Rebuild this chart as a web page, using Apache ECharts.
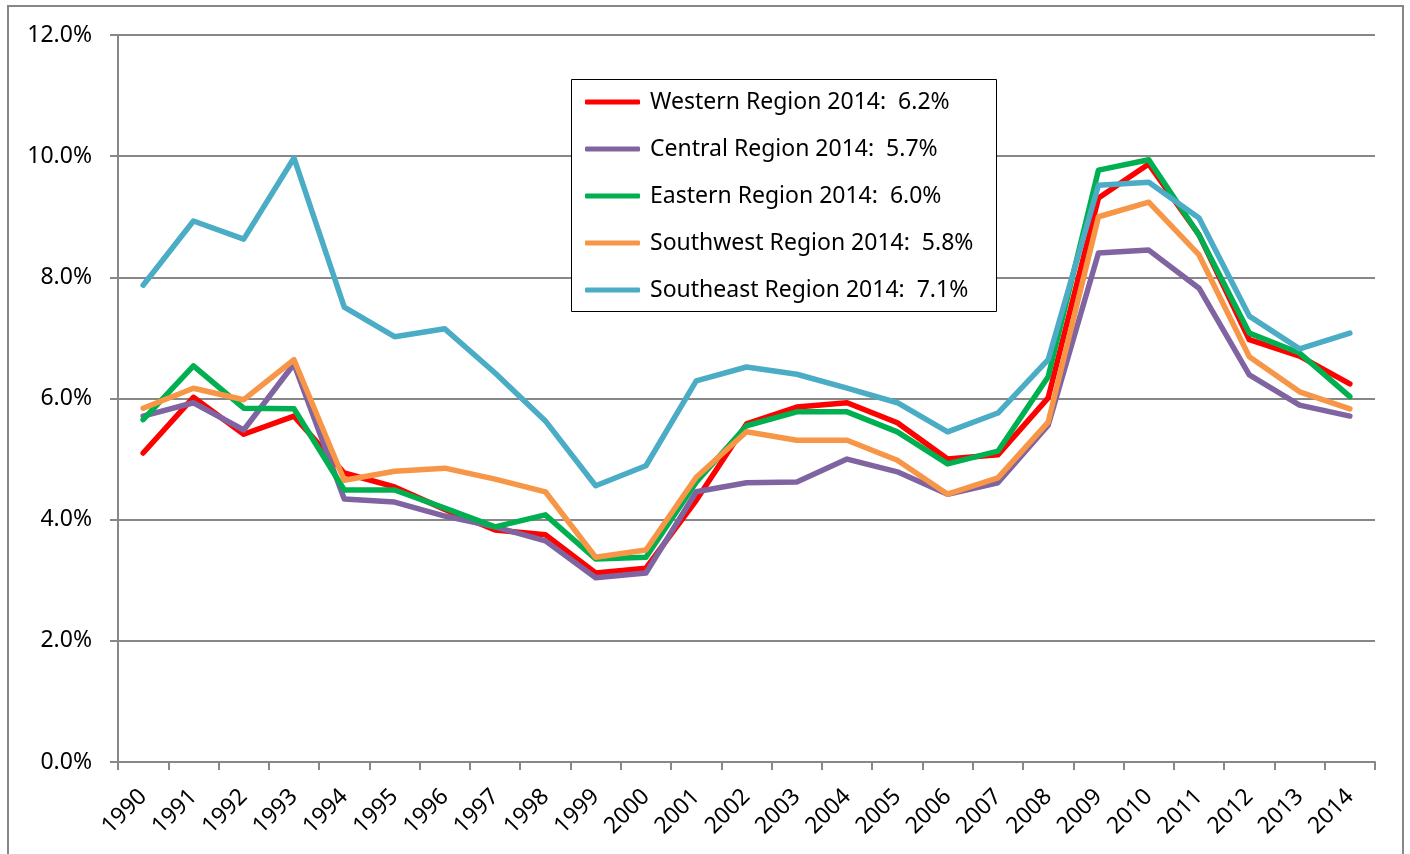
<!DOCTYPE html>
<html>
<head>
<meta charset="utf-8">
<title>Regional Unemployment Rate, 1990–2014</title>
<script src="https://cdn.jsdelivr.net/npm/echarts@6/dist/echarts.min.js"></script>
<style>
  html, body { margin: 0; padding: 0; background: #ffffff; }
  #chart { width: 1410px; height: 854px; }
</style>
</head>
<body>
<div id="chart"></div>
<script>
// Annual unemployment rate by region, in percent
const years = ['1990','1991','1992','1993','1994','1995','1996','1997','1998','1999',
  '2000','2001','2002','2003','2004','2005','2006','2007','2008','2009',
  '2010','2011','2012','2013','2014'];

const western   = [5.10, 6.02, 5.41, 5.71, 4.77, 4.54, 4.17, 3.83, 3.75, 3.12,
  3.20, 4.32, 5.58, 5.86, 5.93, 5.60, 5.00, 5.07, 6.01, 9.31,
  9.87, 8.70, 6.97, 6.70, 6.24];
const central   = [5.71, 5.93, 5.48, 6.57, 4.34, 4.29, 4.06, 3.88, 3.65, 3.04,
  3.12, 4.46, 4.61, 4.62, 5.00, 4.79, 4.42, 4.61, 5.56, 8.40,
  8.45, 7.82, 6.39, 5.89, 5.71];
const eastern   = [5.65, 6.54, 5.84, 5.83, 4.49, 4.49, 4.19, 3.88, 4.08, 3.35,
  3.38, 4.62, 5.55, 5.78, 5.78, 5.45, 4.92, 5.13, 6.36, 9.77,
  9.94, 8.70, 7.08, 6.75, 6.03];
const southwest = [5.84, 6.17, 5.98, 6.64, 4.65, 4.80, 4.85, 4.67, 4.46, 3.38,
  3.50, 4.70, 5.45, 5.31, 5.31, 4.98, 4.42, 4.69, 5.61, 9.00,
  9.24, 8.37, 6.69, 6.11, 5.83];
const southeast = [7.87, 8.93, 8.63, 9.97, 7.51, 7.02, 7.15, 6.42, 5.63, 4.56,
  4.89, 6.29, 6.52, 6.40, 6.17, 5.93, 5.45, 5.76, 6.64, 9.52,
  9.57, 8.98, 7.36, 6.82, 7.08];

const regionNames = ['Western Region', 'Central Region', 'Eastern Region',
  'Southwest Region', 'Southeast Region'];
const regionValues = [western, central, eastern, southwest, southeast];
const regionColors = ['#FF0000', '#8064A2', '#00B050', '#F79646', '#4BACC6'];

const yTicks = { min: 0, max: 12, interval: 2 };

const FONT = '"Noto Sans", "Open Sans", sans-serif';
const GRID_GRAY = '#878787';

// Legend entries carry the latest-year value of each region
const lastIdx = years.length - 1;
const seriesNames = regionNames.map((n, i) =>
  n + ' ' + years[lastIdx] + ':  ' + regionValues[i][lastIdx].toFixed(1) + '%');

const chart = echarts.init(document.getElementById('chart'), null, { renderer: 'canvas' });

chart.setOption({
  backgroundColor: '#ffffff',
  animation: false,
  textStyle: { fontFamily: FONT },
  graphic: [
    { // outer chart border
      type: 'rect', z: 0, silent: true,
      shape: { x: 8, y: 6, width: 1395, height: 900 },
      style: { fill: 'none', stroke: GRID_GRAY, lineWidth: 2 }
    },
    { // legend box
      type: 'rect', z: 50, silent: true,
      shape: { x: 571.5, y: 79.5, width: 425, height: 232 },
      style: { fill: '#ffffff', stroke: '#000000', lineWidth: 1 }
    }
  ],
  grid: { left: 118, right: 35, top: 35, bottom: 92, containLabel: false },
  legend: {
    orient: 'vertical',
    left: 571, top: 79,
    z: 60,
    padding: [11, 20, 11, 14],
    itemGap: 23,
    itemWidth: 55, itemHeight: 5,
    icon: 'roundRect',
    data: seriesNames,
    textStyle: { fontFamily: FONT, fontSize: 23, color: '#000000', lineHeight: 24, padding: [0, 0, 0, 5] },
    selectedMode: false
  },
  xAxis: {
    type: 'category',
    data: years,
    boundaryGap: true,
    axisLine: { lineStyle: { color: GRID_GRAY, width: 2 } },
    axisTick: { show: true, length: 8, inside: false, lineStyle: { color: GRID_GRAY, width: 2 } },
    axisLabel: { rotate: 45, margin: 31, fontSize: 23, color: '#000000', fontFamily: FONT },
    splitLine: { show: false }
  },
  yAxis: {
    type: 'value',
    min: yTicks.min, max: yTicks.max, interval: yTicks.interval,
    axisLine: { show: true, lineStyle: { color: GRID_GRAY, width: 2 } },
    axisTick: { show: true, length: 8, inside: false, lineStyle: { color: GRID_GRAY, width: 2 } },
    axisLabel: {
      fontSize: 23, color: '#000000', fontFamily: FONT, margin: 26,
      formatter: v => v.toFixed(1) + '%'
    },
    splitLine: { show: true, lineStyle: { color: GRID_GRAY, width: 2 } }
  },
  series: regionValues.map((vals, i) => ({
    name: seriesNames[i],
    type: 'line',
    data: vals,
    symbol: 'none',
    smooth: false,
    color: regionColors[i],
    lineStyle: { color: regionColors[i], width: 5.5, cap: 'round', join: 'round' },
    z: 2 + i
  }))
});
</script>
</body>
</html>
